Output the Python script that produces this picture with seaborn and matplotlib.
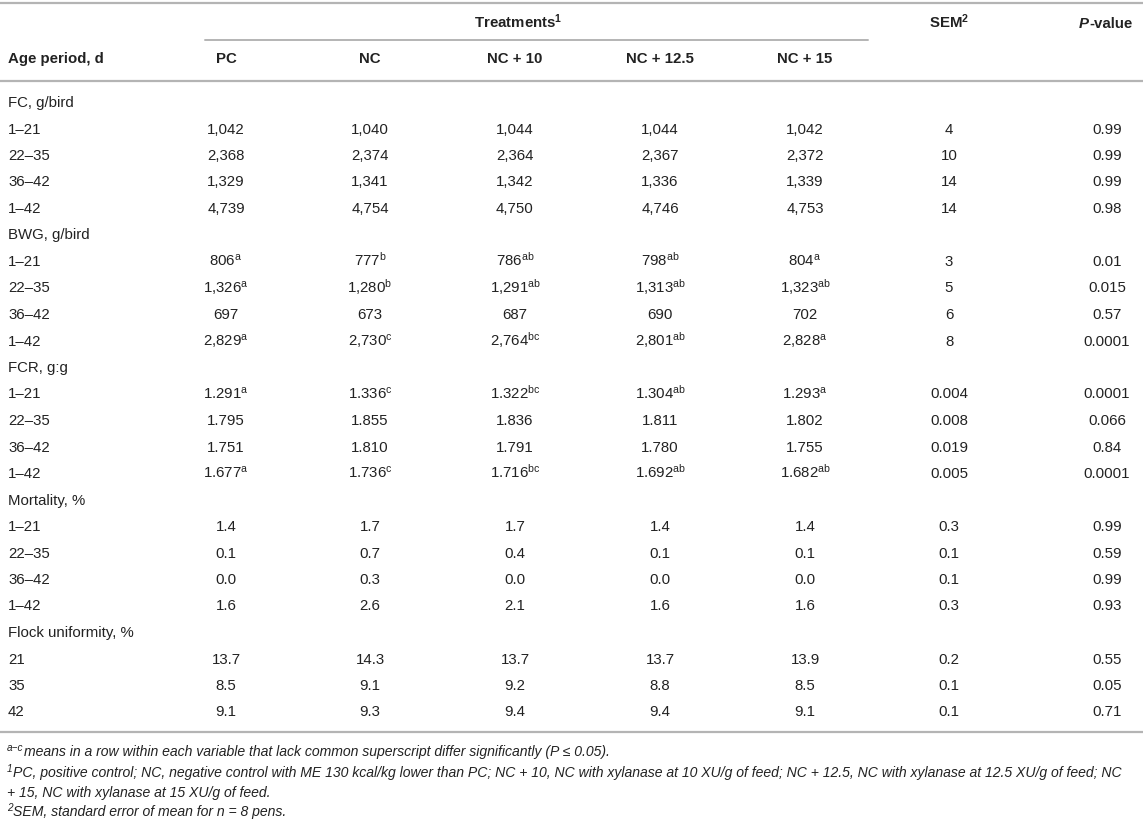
import re
import matplotlib
matplotlib.use("Agg")
import matplotlib.pyplot as plt
import seaborn as sns

# table content
variables = ["FC, g/bird", "BWG, g/bird", "FCR, g:g", "Mortality, %", "Flock uniformity, %"]
periods = [["1–21", "22–35", "36–42", "1–42"]] * 4 + [["21", "35", "42"]]
treatments = ["PC", "NC", "NC + 10", "NC + 12.5", "NC + 15"]

pc = ["1,042", "2,368", "1,329", "4,739",
      "806a", "1,326a", "697", "2,829a",
      "1.291a", "1.795", "1.751", "1.677a",
      "1.4", "0.1", "0.0", "1.6",
      "13.7", "8.5", "9.1"]
nc = ["1,040", "2,374", "1,341", "4,754",
      "777b", "1,280b", "673", "2,730c",
      "1.336c", "1.855", "1.810", "1.736c",
      "1.7", "0.7", "0.3", "2.6",
      "14.3", "9.1", "9.3"]
nc10 = ["1,044", "2,364", "1,342", "4,750",
        "786ab", "1,291ab", "687", "2,764bc",
        "1.322bc", "1.836", "1.791", "1.716bc",
        "1.7", "0.4", "0.0", "2.1",
        "13.7", "9.2", "9.4"]
nc125 = ["1,044", "2,367", "1,336", "4,746",
         "798ab", "1,313ab", "690", "2,801ab",
         "1.304ab", "1.811", "1.780", "1.692ab",
         "1.4", "0.1", "0.0", "1.6",
         "13.7", "8.8", "9.4"]
nc15 = ["1,042", "2,372", "1,339", "4,753",
        "804a", "1,323ab", "702", "2,828a",
        "1.293a", "1.802", "1.755", "1.682ab",
        "1.4", "0.1", "0.0", "1.6",
        "13.9", "8.5", "9.1"]
sem = ["4", "10", "14", "14",
       "3", "5", "6", "8",
       "0.004", "0.008", "0.019", "0.005",
       "0.3", "0.1", "0.1", "0.3",
       "0.2", "0.1", "0.1"]
pval = ["0.99", "0.99", "0.99", "0.98",
        "0.01", "0.015", "0.57", "0.0001",
        "0.0001", "0.066", "0.84", "0.0001",
        "0.99", "0.59", "0.99", "0.93",
        "0.55", "0.05", "0.71"]

footnotes = [
    ("a−c", "means in a row within each variable that lack common superscript differ significantly (P ≤ 0.05)."),
    ("1", "PC, positive control; NC, negative control with ME 130 kcal/kg lower than PC; NC + 10, NC with xylanase at 10 XU/g of feed; NC + 12.5, NC with xylanase at 12.5 XU/g of feed; NC"),
    ("", "+ 15, NC with xylanase at 15 XU/g of feed."),
    ("2", "SEM, standard error of mean for n = 8 pens."),
]

sns.set_theme(style="white")
plt.rcParams["font.family"] = ["Liberation Sans", "DejaVu Sans"]
plt.rcParams["mathtext.fontset"] = "custom"
plt.rcParams["mathtext.rm"] = "Liberation Sans"
plt.rcParams["mathtext.it"] = "Liberation Sans:italic"
plt.rcParams["mathtext.bf"] = "Liberation Sans:bold"

TXT = "#222222"
LINE = "#b4b4b4"
FS = 10.8

fig = plt.figure(figsize=(11.43, 8.21), dpi=100)
ax = fig.add_axes([0, 0, 1, 1])
ax.set_xlim(0, 1143)
ax.set_ylim(821, 0)
ax.axis("off")

col_x = [226, 370, 515, 660, 805, 949, 1107]
row0, step = 102, 26.5
base = 5


def cell(s):
    m = re.match(r"^([\d.,]+)([a-c]*)$", s)
    num, sup = m.group(1), m.group(2)
    return num + (r"$^{\mathregular{%s}}$" % sup if sup else "")


# rules
ax.plot([0, 1143], [3, 3], color=LINE, lw=1.6)
ax.plot([205, 868], [40, 40], color=LINE, lw=1.4)
ax.plot([0, 1143], [81, 81], color=LINE, lw=1.6)
ax.plot([0, 1143], [732, 732], color=LINE, lw=1.6)

# header
ax.text(518, 23 + base, r"Treatments$^{\mathbf{1}}$", ha="center", va="baseline",
        fontsize=FS, fontweight="bold", color=TXT)
ax.text(8, 58 + base, "Age period, d", ha="left", va="baseline",
        fontsize=FS, fontweight="bold", color=TXT)
for x, t in zip(col_x[:5], treatments):
    ax.text(x, 58 + base, t, ha="center", va="baseline",
            fontsize=FS, fontweight="bold", color=TXT)
ax.text(949, 23 + base, r"SEM$^{\mathbf{2}}$", ha="center", va="baseline",
        fontsize=FS, fontweight="bold", color=TXT)
ax.text(1089, 23 + base, "P", ha="right", va="baseline", fontsize=FS,
        fontweight="bold", fontstyle="italic", color=TXT)
ax.text(1089, 23 + base, "-value", ha="left", va="baseline", fontsize=FS,
        fontweight="bold", color=TXT)

# body
columns = [pc, nc, nc10, nc125, nc15, sem, pval]
r = 0
k = 0
for var, per in zip(variables, periods):
    y = row0 + r * step
    ax.text(8, y + base, var, ha="left", va="baseline", fontsize=FS, color=TXT)
    r += 1
    for p in per:
        y = row0 + r * step
        ax.text(8, y + base, p, ha="left", va="baseline", fontsize=FS, color=TXT)
        for x, col in zip(col_x, columns):
            ax.text(x, y + base, cell(col[k]), ha="center", va="baseline",
                    fontsize=FS, color=TXT)
        r += 1
        k += 1

# footnotes
foot_y = [756, 777, 797, 816]
for y, (sup, txt) in zip(foot_y, footnotes):
    x0 = 7
    if sup:
        ax.text(x0, y - 5, sup, ha="left", va="baseline", fontsize=7.2,
                fontstyle="italic", color=TXT)
        x0 += 17 if len(sup) > 1 else 6
    ax.text(x0, y, txt, ha="left", va="baseline", fontsize=10.1,
            fontstyle="italic", color=TXT)

fig.savefig("out.png", dpi=100)
